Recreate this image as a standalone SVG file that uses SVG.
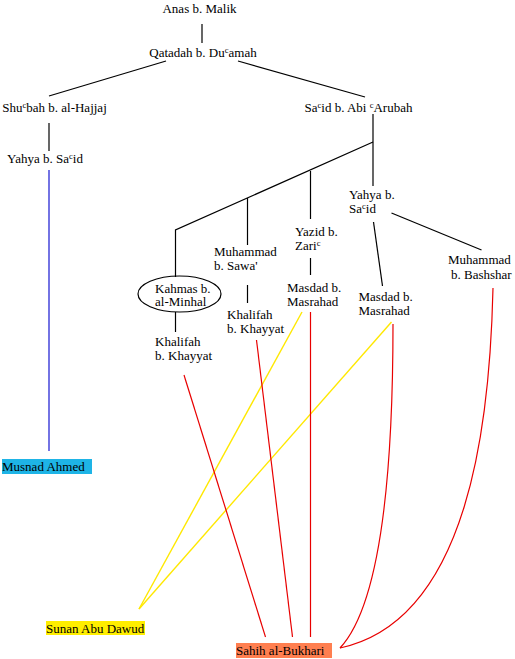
<svg xmlns="http://www.w3.org/2000/svg" width="515" height="659" viewBox="0 0 515 659">
<style>
text{font-family:"Liberation Serif","DejaVu Serif",serif;font-size:13px;fill:#000}
.m{text-anchor:middle}
.sup{font-size:8.5px}
.k{stroke:#000;stroke-width:1.2;fill:none}
.b{stroke:#0000CC;stroke-width:1.1;fill:none}
.r{stroke:#E80000;stroke-width:1.2;fill:none}
.y{stroke:#FFE800;stroke-width:1.4;fill:none}
</style>
<rect width="515" height="659" fill="#fff"/>
<g id="connectors">
<line class="k" x1="202" y1="24" x2="202" y2="43"/>
<line class="k" x1="166" y1="61" x2="49" y2="96"/>
<line class="k" x1="238" y1="61" x2="365" y2="97"/>
<line class="k" x1="49" y1="123" x2="49" y2="151"/>
<line class="b" x1="49" y1="170" x2="49" y2="451"/>
<line class="k" x1="373" y1="114" x2="373" y2="186"/>
<polyline class="k" points="373,142 175.5,230 175.5,277"/>
<line class="k" x1="247.5" y1="198" x2="247.5" y2="245"/>
<line class="k" x1="310.5" y1="171" x2="310.5" y2="219"/>
<line class="k" x1="391.5" y1="213" x2="481.5" y2="250"/>
<line class="k" x1="373.5" y1="222" x2="382.5" y2="286"/>
<line class="k" x1="247.5" y1="285" x2="247.5" y2="303"/>
<line class="k" x1="310.5" y1="258" x2="310.5" y2="275"/>
<line class="k" x1="175.5" y1="312" x2="175.5" y2="332"/>
<line class="y" x1="302" y1="312" x2="139" y2="609"/>
<line class="y" x1="391.5" y1="322" x2="139" y2="609"/>
<line class="r" x1="184" y1="375" x2="265.5" y2="637"/>
<line class="r" x1="256.5" y1="340" x2="292.5" y2="637"/>
<line class="r" x1="310.5" y1="312" x2="310.5" y2="637"/>
<path class="r" d="M393,324 C393,450 385,600 340,648"/>
<path class="r" d="M493,288 C490,420 470,620 340,648"/>
</g>
<g id="anas"><text class="m" x="199.5" y="13">Anas b. Malik</text></g>
<g id="qatadah"><text class="m" x="203" y="57">Qatadah b. Du<tspan class="sup" dy="-4">c</tspan><tspan dy="4">amah</tspan></text></g>
<g id="shubah"><text class="m" x="54.5" y="112">Shu<tspan class="sup" dy="-4">c</tspan><tspan dy="4">bah b. al-Hajjaj</tspan></text></g>
<g id="yahya1"><text class="m" x="45" y="163">Yahya b. Sa<tspan class="sup" dy="-4">c</tspan><tspan dy="4">id</tspan></text></g>
<g id="said"><text class="m" x="358.5" y="112">Sa<tspan class="sup" dy="-4">c</tspan><tspan dy="4">id b. Abi </tspan><tspan class="sup" dy="-4">c</tspan><tspan dy="4">Arubah</tspan></text></g>
<g id="yahya2"><text x="349" y="199">Yahya b.</text><text x="349" y="213">Sa<tspan class="sup" dy="-4">c</tspan><tspan dy="4">id</tspan></text></g>
<g id="yazid"><text x="295" y="236">Yazid b.</text><text x="295" y="250">Zari<tspan class="sup" dy="-4">c</tspan></text></g>
<g id="sawa"><text x="214" y="256">Muhammad</text><text x="214" y="270">b. Sawa'</text></g>
<g id="bashshar"><text x="448" y="264">Muhammad</text><text x="451" y="279">b. Bashshar</text></g>
<g id="kahmas"><ellipse cx="179.5" cy="294" rx="41.5" ry="18" fill="none" stroke="#000" stroke-width="1.2"/><text x="155" y="292.5">Kahmas b.</text><text x="155" y="306">al-Minhal</text></g>
<g id="masdad1"><text x="287" y="292">Masdad b.</text><text x="287" y="306">Masrahad</text></g>
<g id="masdad2"><text x="358.5" y="301">Masdad b.</text><text x="358.5" y="315">Masrahad</text></g>
<g id="khalifah1"><text x="227" y="319">Khalifah</text><text x="227" y="333">b. Khayyat</text></g>
<g id="khalifah2"><text x="155" y="346">Khalifah</text><text x="155" y="360">b. Khayyat</text></g>
<g id="musnad"><rect x="2" y="459" width="90" height="15" fill="#1EB4E6"/><text x="2" y="471">Musnad Ahmed</text></g>
<g id="sunan"><rect x="46" y="621" width="99" height="14" fill="#FFEE00"/><text x="46" y="633">Sunan Abu Dawud</text></g>
<g id="bukhari"><rect x="236" y="643" width="96" height="15" fill="#FF7F50"/><text x="236" y="655">Sahih al-Bukhari</text></g>
</svg>
